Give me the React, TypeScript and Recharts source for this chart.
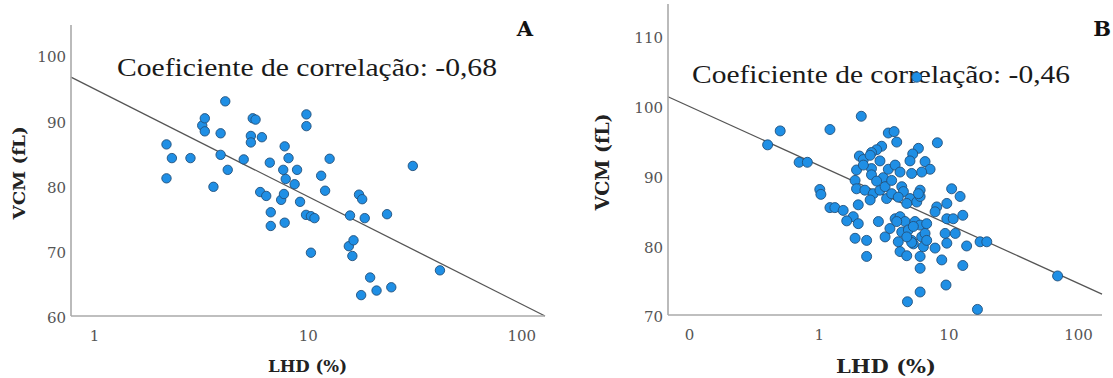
import { ScatterChart, Scatter, XAxis, YAxis, ReferenceLine } from 'recharts';

// Panel A: LHD (%) vs VCM (fL)
const lhdA = [
  2.17, 2.3, 2.17, 2.81, 3.19, 3.28, 3.28, 3.6, 3.89, 3.89, 4.09, 4.2, 4.99, 5.39,
  5.39, 5.5, 5.67, 6.07, 5.96, 6.36, 6.61, 6.68, 6.68, 7.47, 7.7, 7.76, 7.64, 7.85,
  8.09, 7.76, 8.64, 8.87, 9.16, 9.81, 9.81, 9.77, 10.3, 10.7, 10.3, 11.5, 12.0, 12.6,
  15.7, 15.5, 16.3, 16.1, 17.3, 17.9, 18.4, 17.7, 19.5, 20.9, 23.4, 24.5, 30.9, 41.4,
];
const vcmA = [
  86.3, 84.2, 81.1, 84.2, 89.2, 90.3, 88.3, 79.8, 88.0, 84.7, 92.9, 82.4, 84.0, 87.6,
  86.6, 90.3, 90.1, 87.4, 79.0, 78.4, 83.5, 75.9, 73.8, 77.8, 78.7, 86.0, 82.4, 81.0,
  84.2, 74.3, 80.2, 82.4, 77.5, 90.9, 89.1, 75.5, 75.3, 75.0, 69.7, 81.5, 79.2, 84.1,
  75.4, 70.7, 71.6, 69.2, 78.6, 77.9, 75.0, 63.2, 65.9, 63.9, 75.6, 64.4, 83.0, 67.0,
];

// Panel B
const lhdB = [
  0.4, 0.5, 0.7, 0.81, 1.01, 1.03, 1.21, 1.21, 1.32,
  2.11, 3.41, 3.78, 3.96, 8.15, 5.82, 5.26, 5.01, 3.03, 2.77, 2.53, 2.04, 2.19, 2.47,
  2.94, 1.94, 2.53, 2.19, 2.53, 3.12, 3.41, 3.85, 4.2, 6.55, 7.16, 6.17, 5.16, 1.89,
  1.94, 2.25, 2.61, 2.94, 3.22, 3.31, 3.62, 4.33, 4.46, 5.01, 5.65, 6.0, 6.0, 5.82,
  1.53, 1.83, 1.63, 2.0, 2.0, 1.89, 2.32, 2.32, 2.86, 3.22, 3.51, 3.85, 4.2, 4.33,
  4.59, 4.87, 5.16, 5.32, 5.48, 6.0, 6.17, 6.55, 6.74, 6.36, 6.0, 6.0, 4.2, 4.73,
  5.16, 8.06, 7.82, 9.64, 10.5, 12.2, 9.64, 10.8, 12.8, 9.35, 11.2, 9.64, 7.82, 8.81,
  12.8, 13.7, 17.4, 19.6, 68.9, 6.0, 9.5, 4.79, 16.6, 5.65,
  2.77, 3.62, 4.07, 4.73, 3.96, 5.32, 4.73, 6.74, 4.07, 2.47,
];
const vcmB = [
  94.4, 96.4, 91.9, 91.9, 88.0, 87.3, 96.6, 85.4, 85.4,
  98.5, 96.1, 96.3, 94.8, 94.7, 93.9, 93.1, 92.1, 94.2, 93.7, 93.3, 92.8, 92.3, 92.9,
  92.1, 90.8, 91.0, 91.5, 90.1, 89.7, 90.9, 91.5, 90.5, 92.0, 90.9, 90.5, 90.3, 89.3,
  88.1, 87.9, 87.4, 87.9, 88.4, 86.7, 87.4, 88.4, 87.7, 86.7, 86.2, 87.9, 87.0, 87.4,
  85.0, 84.1, 83.5, 85.8, 83.1, 81.0, 80.7, 78.4, 83.4, 81.2, 82.4, 83.8, 84.1, 81.9,
  83.4, 82.2, 80.7, 80.2, 83.4, 82.9, 81.2, 81.7, 83.1, 79.8, 78.4, 76.7, 79.1, 78.5,
  80.4, 85.5, 84.8, 86.0, 88.1, 87.0, 83.8, 83.8, 84.3, 81.7, 81.7, 80.3, 79.6, 77.9,
  77.1, 79.9, 80.5, 80.5, 75.6, 73.3, 74.3, 71.9, 70.8, 104.1,
  89.2, 89.3, 86.9, 86.0, 83.4, 82.7, 81.2, 80.7, 80.5, 86.5,
];

const xTicksA = [1, 10, 100];
const yTicksA = [60, 70, 80, 90, 100];
const xTicksB = [0.1, 1, 10, 100];
const yTicksB = [70, 80, 90, 100, 110];

// regression line ends, read at the plot edges
const fitA = [{ x: 0.775, y: 96.6 }, { x: 128.5, y: 60 }];
const fitB = [{ x: 0.0682, y: 101.3 }, { x: 151.6, y: 73.0 }];

const dataA = lhdA.map((v, i) => ({ lhd: v, vcm: vcmA[i] }));
const dataB = lhdB.map((v, i) => ({ lhd: v, vcm: vcmB[i] }));

const tickStyle = { fill: '#555', fontSize: 15, fontFamily: 'DejaVu Serif' };
const axisStyle = { stroke: '#aaaaaa', strokeWidth: 1.6 };
const fmtX = (v: number) => (v < 1 ? '0' : String(v));

function Panel({ data, fit, xDomain, yDomain, xTicks, yTicks, width, yWidth, mRight, mTop, xHeight, r }: any) {
  return (
    <ScatterChart width={width} height={378} margin={{ top: mTop, right: mRight, bottom: 0, left: 0 }}>
      <XAxis
        type="number"
        dataKey="lhd"
        scale="log"
        domain={xDomain}
        ticks={xTicks}
        allowDataOverflow
        interval={0}
        tickFormatter={fmtX}
        height={xHeight}
        tickLine={false}
        tickSize={0}
        tickMargin={14}
        axisLine={axisStyle}
        tick={tickStyle}
      />
      <YAxis
        type="number"
        dataKey="vcm"
        domain={yDomain}
        ticks={yTicks}
        allowDataOverflow
        interval={0}
        width={yWidth}
        tickLine={false}
        tickSize={0}
        tickMargin={5}
        axisLine={axisStyle}
        tick={{ ...tickStyle, dy: 2 }}
      />
      <ReferenceLine segment={fit} stroke="#555" strokeWidth={1.3} ifOverflow="visible" />
      <Scatter
        data={data}
        isAnimationActive={false}
        shape={(p: any) => (
          <circle cx={p.cx} cy={p.cy} r={r} fill="#1f8fe5" stroke="#22507a" strokeWidth={0.9} />
        )}
      />
    </ScatterChart>
  );
}

export default function App() {
  const serif = 'Liberation Serif';
  const bold = 'DejaVu Serif';
  return (
    <div style={{ position: 'absolute', left: 0, top: 0, width: 1113, height: 378, background: '#fff' }}>
      {/* titles and axis names sit under the charts so dots overlap them as in the source */}
      <svg width={1113} height={378} style={{ position: 'absolute', left: 0, top: 0 }}>
        <text x={525} y={36} textAnchor="middle" fontFamily={bold} fontWeight="bold" fontSize={21} fill="#111">A</text>
        <text x={1102} y={36} textAnchor="middle" fontFamily={bold} fontWeight="bold" fontSize={21} fill="#111">B</text>
        <text x={117} y={76} fontFamily={serif} fontSize={26} fill="#1a1a1a" textLength={380} lengthAdjust="spacingAndGlyphs">
          Coeficiente de correlação: -0,68
        </text>
        <text x={692} y={83} fontFamily={serif} fontSize={26} fill="#1a1a1a" textLength={378} lengthAdjust="spacingAndGlyphs">
          Coeficiente de correlação: -0,46
        </text>
        <text transform="translate(19,173) rotate(-90)" dy="0.36em" textAnchor="middle" fontFamily={bold} fontWeight="bold"
          fontSize={17} fill="#222" textLength={93} lengthAdjust="spacingAndGlyphs">VCM (fL)</text>
        <text transform="translate(603,162) rotate(-90)" dy="0.36em" textAnchor="middle" fontFamily={bold} fontWeight="bold"
          fontSize={18} fill="#222" textLength={97} lengthAdjust="spacingAndGlyphs">VCM (fL)</text>
        <text x={307.5} y={372} textAnchor="middle" fontFamily={bold} fontWeight="bold" fontSize={17} fill="#222"
          textLength={79} lengthAdjust="spacingAndGlyphs">LHD (%)</text>
        <text x={886} y={373} textAnchor="middle" fontFamily={bold} fontWeight="bold" fontSize={19} fill="#222"
          textLength={100} lengthAdjust="spacingAndGlyphs">LHD (%)</text>
      </svg>
      <div style={{ position: 'absolute', left: 0, top: 0 }}>
        <Panel data={dataA} fit={fitA} xDomain={[0.775, 128.5]} yDomain={[60, 104.6]} xTicks={xTicksA}
          yTicks={yTicksA} width={560} yWidth={71} mRight={15} mTop={25} xHeight={62} r={4.7} />
      </div>
      <div style={{ position: 'absolute', left: 560, top: 0 }}>
        <Panel data={dataB} fit={fitB} xDomain={[0.0682, 151.6]} yDomain={[70, 114.6]} xTicks={xTicksB}
          yTicks={yTicksB} width={553} yWidth={108} mRight={11} mTop={4} xHeight={63} r={5} />
      </div>
    </div>
  );
}
